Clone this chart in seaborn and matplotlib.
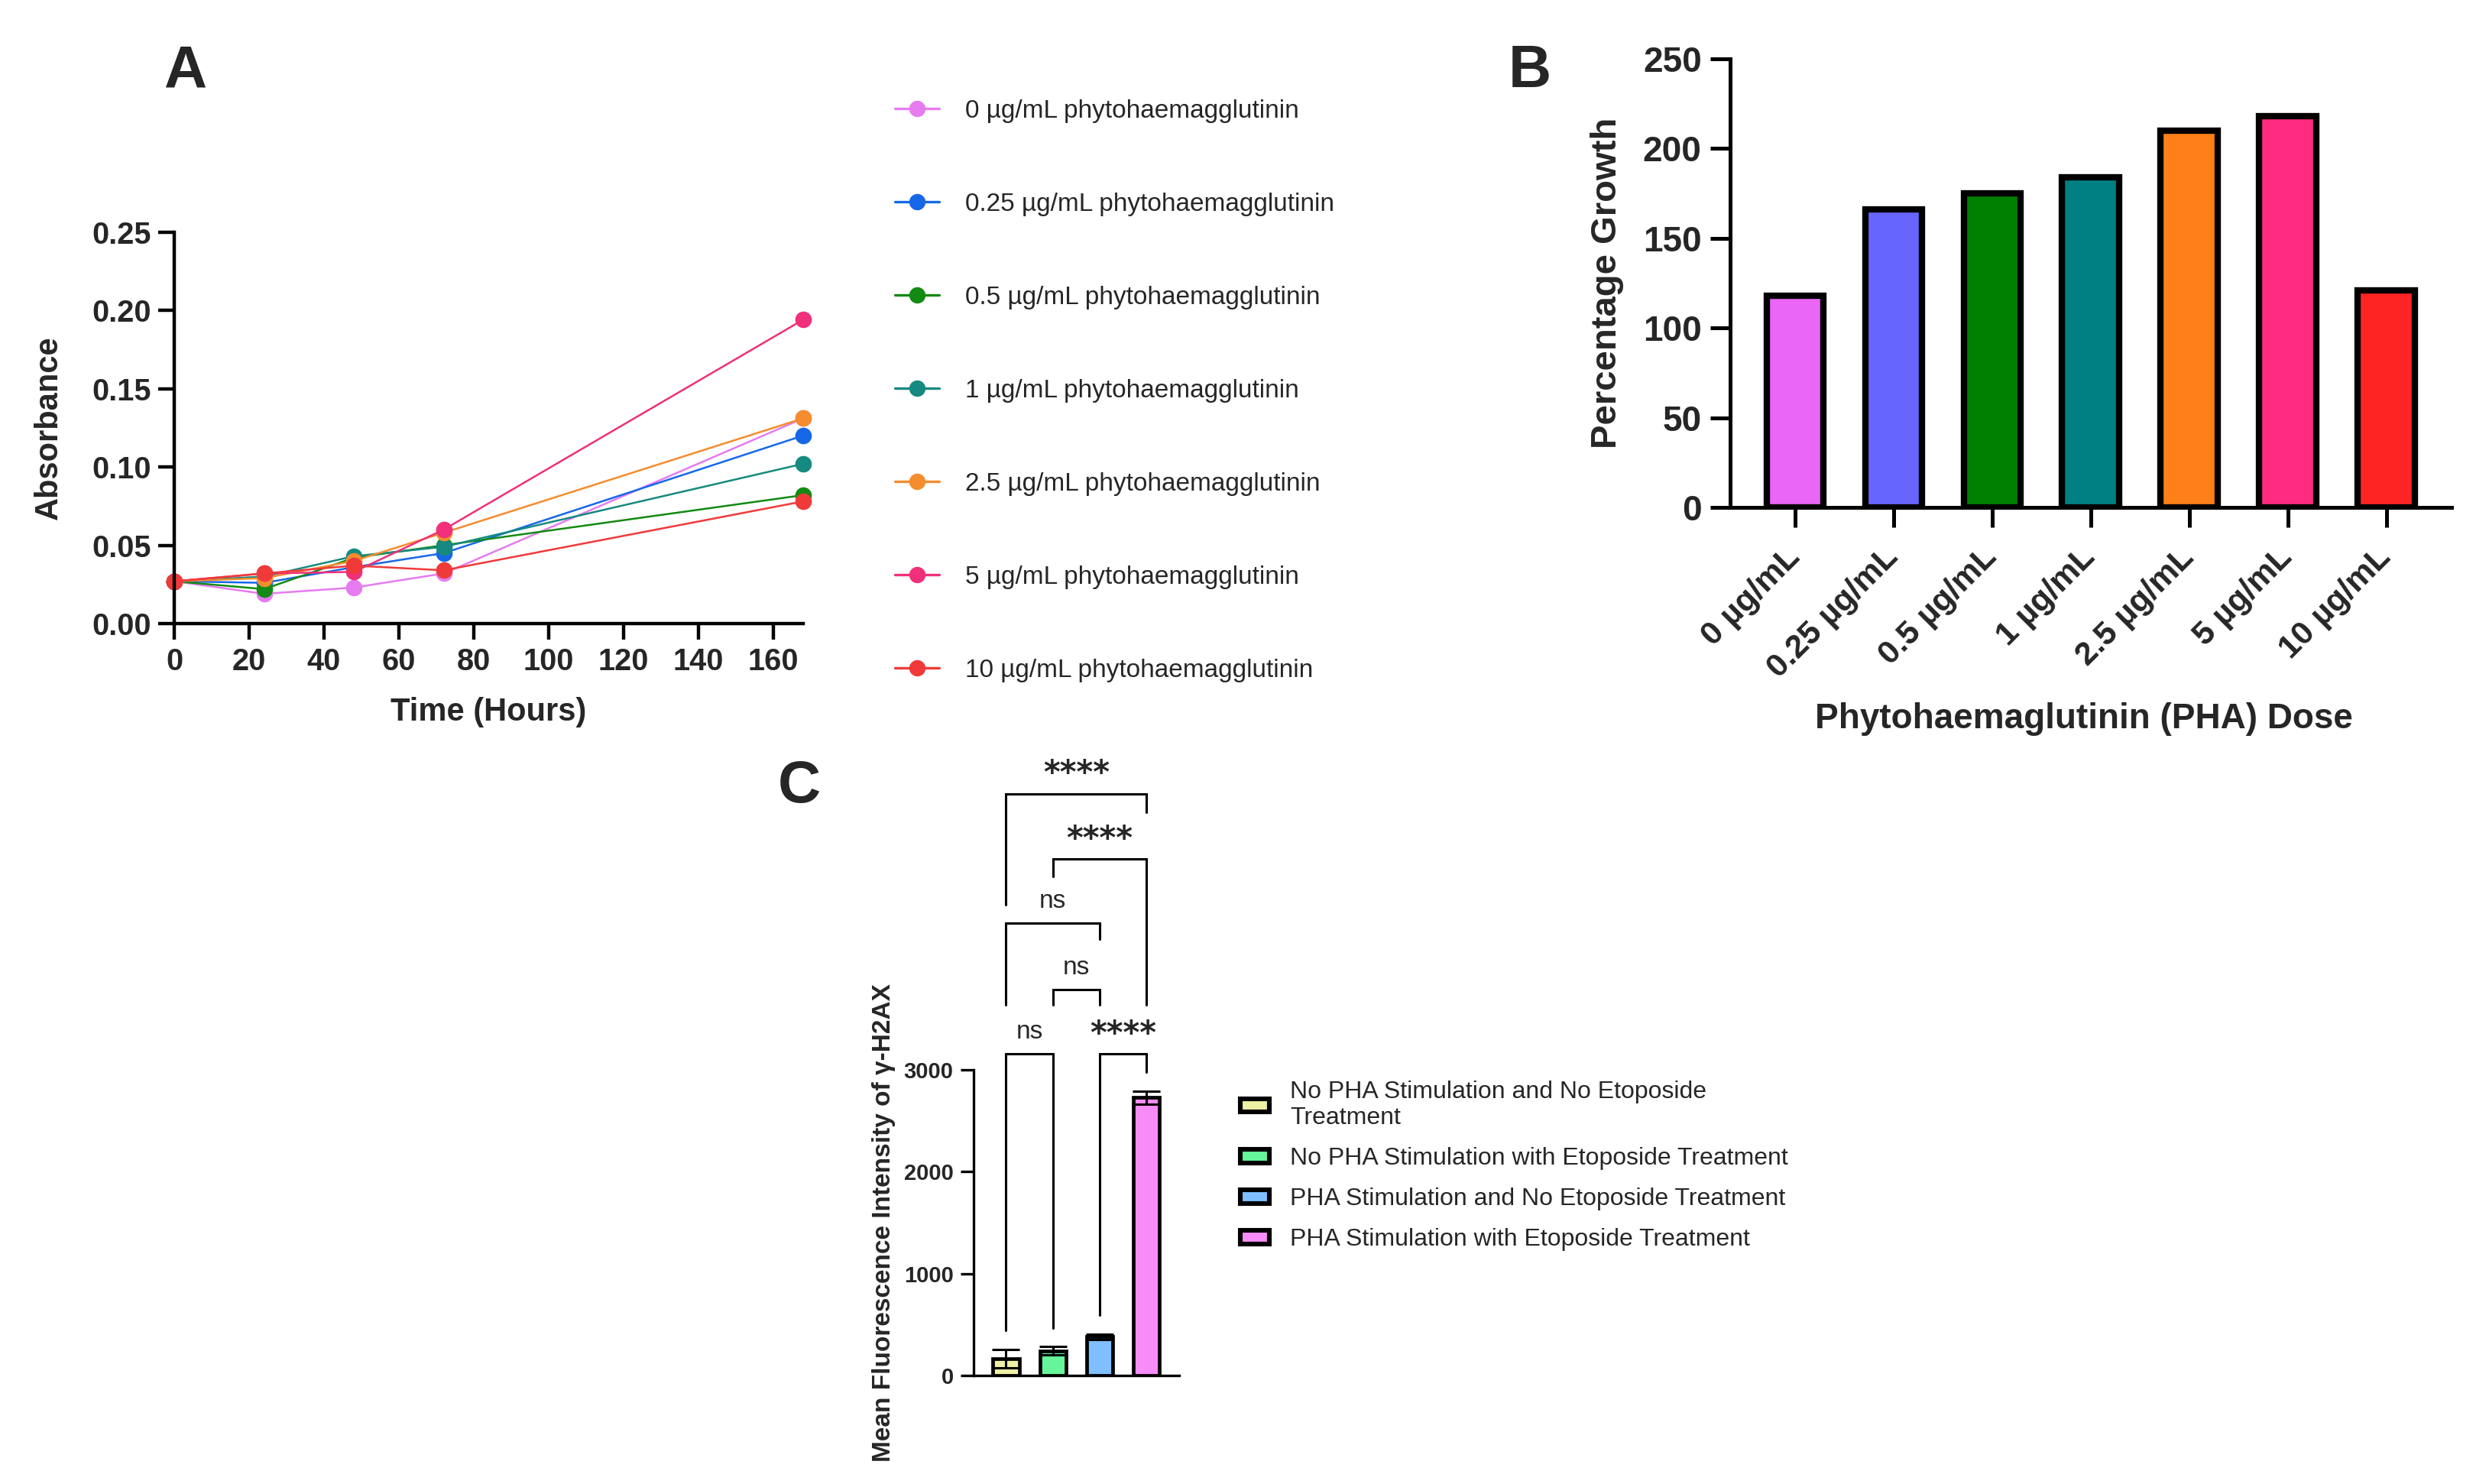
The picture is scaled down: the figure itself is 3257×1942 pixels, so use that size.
import pandas as pd
import matplotlib.pyplot as plt
import seaborn as sns
from matplotlib.lines import Line2D
from matplotlib.patches import Patch

# ---- Panel A: absorbance over time ----
hours = [0, 24, 48, 72, 168]
dose_labels_a = [
    "0 µg/mL phytohaemagglutinin",
    "0.25 µg/mL phytohaemagglutinin",
    "0.5 µg/mL phytohaemagglutinin",
    "1 µg/mL phytohaemagglutinin",
    "2.5 µg/mL phytohaemagglutinin",
    "5 µg/mL phytohaemagglutinin",
    "10 µg/mL phytohaemagglutinin",
]
abs_0 = [0.027, 0.019, 0.023, 0.032, 0.131]
abs_025 = [0.027, 0.026, 0.036, 0.045, 0.120]
abs_05 = [0.027, 0.022, 0.042, 0.050, 0.082]
abs_1 = [0.027, 0.030, 0.043, 0.049, 0.102]
abs_25 = [0.027, 0.029, 0.040, 0.058, 0.131]
abs_5 = [0.027, 0.032, 0.033, 0.060, 0.194]
abs_10 = [0.027, 0.032, 0.037, 0.034, 0.078]
colors_a = ["#E67BF0", "#1668E8", "#138A13", "#168A80", "#F58C2E", "#F0307A", "#F03A3A"]

# ---- Panel B: percentage growth ----
doses_b = ["0 µg/mL", "0.25 µg/mL", "0.5 µg/mL", "1 µg/mL", "2.5 µg/mL", "5 µg/mL", "10 µg/mL"]
growth_b = [118, 166, 175, 184, 210, 218, 121]
colors_b = ["#E966F7", "#6666FF", "#008000", "#008080", "#FF8019", "#FF2B80", "#FF2424"]

# ---- Panel C: gamma-H2AX intensity ----
groups_c = [
    "No PHA Stimulation and No Etoposide\nTreatment",
    "No PHA Stimulation with Etoposide Treatment",
    "PHA Stimulation and No Etoposide Treatment",
    "PHA Stimulation with Etoposide Treatment",
]
mfi_mean = [168, 243, 380, 2728]
mfi_sd = [90, 42, 25, 65]
colors_c = ["#EEF0A6", "#66F59A", "#7FBFFF", "#F78BF7"]

# comparisons: (group i, group j, label, bracket top, left leg end, right leg end)
comparisons = [
    (0, 1, "ns", 3157, 445, 468),
    (2, 3, "****", 3157, 595, 2980),
    (1, 2, "ns", 3790, 3640, 3640),
    (0, 2, "ns", 4440, 3640, 4280),
    (1, 3, "****", 5070, 4900, 3640),
    (0, 3, "****", 5710, 4620, 5530),
]


def main() -> None:
    sns.set_style("ticks")
    plt.rcParams["font.family"] = ["Liberation Sans", "DejaVu Sans"]

    fig = plt.figure(figsize=(16.285, 9.71), dpi=200)

    # ---------- A ----------
    axA = fig.add_axes([0.0700, 0.5798, 0.2527, 0.2639])
    series = [abs_0, abs_025, abs_05, abs_1, abs_25, abs_5, abs_10]
    rows = []
    for lab, vals in zip(dose_labels_a, series):
        for h, v in zip(hours, vals):
            rows.append({"Hours": h, "Absorbance": v, "Dose": lab})
    dfa = pd.DataFrame(rows)
    sns.lineplot(data=dfa, x="Hours", y="Absorbance", hue="Dose",
                 hue_order=dose_labels_a, palette=colors_a, marker="o",
                 markersize=7.8, markeredgewidth=0, linewidth=0.9,
                 legend=False, clip_on=False, ax=axA)
    axA.set_xlim(0, 168)
    axA.set_ylim(0, 0.25)
    axA.set_xticks(range(0, 161, 20))
    axA.set_yticks([0, 0.05, 0.10, 0.15, 0.20, 0.25])
    axA.set_yticklabels(["0.00", "0.05", "0.10", "0.15", "0.20", "0.25"])
    for lab in axA.get_xticklabels() + axA.get_yticklabels():
        lab.set_fontweight("bold")
    axA.tick_params(labelsize=14.3, width=1.6, length=7.5, color="black")
    sns.despine(ax=axA)
    for s in ["left", "bottom"]:
        axA.spines[s].set_linewidth(1.6)
        axA.spines[s].set_color("black")
    axA.set_xlabel("Time (Hours)", fontsize=15, fontweight="bold")
    axA.set_ylabel("Absorbance", fontsize=15, fontweight="bold")
    axA.xaxis.set_label_coords(0.5, -0.187)
    axA.yaxis.set_label_coords(-0.175, 0.5)

    handles_a = [Line2D([], [], color=c, marker="o", markersize=7.7,
                        markeredgewidth=0, linewidth=1.2) for c in colors_a]
    fig.legend(handles_a, dose_labels_a, loc="upper left",
               bbox_to_anchor=(0.3595, 0.933), frameon=False, fontsize=12,
               labelspacing=2.73, handlelength=1.75, handletextpad=1.0,
               borderpad=0, borderaxespad=0, numpoints=1)

    # ---------- B ----------
    axB = fig.add_axes([0.6951, 0.6581, 0.2898, 0.3023])
    sns.barplot(x=doses_b, y=growth_b, hue=doses_b, palette=colors_b,
                legend=False, width=0.58, edgecolor="black", linewidth=3,
                saturation=1, ax=axB)
    axB.set_xlim(-0.66, 6.66)
    axB.set_ylim(0, 250)
    axB.set_yticks(range(0, 251, 50))
    axB.set_xticks(range(len(doses_b)))
    axB.set_xticklabels(doses_b, rotation=45, ha="right", va="center",
                        rotation_mode="anchor")
    for lab in axB.get_xticklabels() + axB.get_yticklabels():
        lab.set_fontweight("bold")
    axB.tick_params(width=1.8, color="black")
    axB.tick_params(axis="x", length=9.4, labelsize=15.5, pad=12)
    axB.tick_params(axis="y", length=9.4, labelsize=16.5, pad=4)
    sns.despine(ax=axB)
    for s in ["left", "bottom"]:
        axB.spines[s].set_linewidth(1.8)
        axB.spines[s].set_color("black")
    axB.set_xlabel("Phytohaemaglutinin (PHA) Dose", fontsize=16.5, fontweight="bold")
    axB.set_ylabel("Percentage Growth", fontsize=17, fontweight="bold")
    axB.xaxis.set_label_coords(0.49, -0.434)
    axB.yaxis.set_label_coords(-0.147, 0.5)

    # ---------- C ----------
    axC = fig.add_axes([0.3912, 0.0731, 0.0826, 0.4325])
    xpos = list(range(len(groups_c)))
    sns.barplot(x=xpos, y=mfi_mean, hue=xpos, palette=colors_c, legend=False,
                width=0.56, edgecolor="black", linewidth=1.7, saturation=1,
                ax=axC)
    axC.errorbar(xpos, mfi_mean, yerr=mfi_sd, fmt="none", ecolor="black",
                 elinewidth=1.1, capsize=6.5, capthick=1.1, zorder=5)
    axC.set_xlim(-0.69, 3.70)
    axC.set_ylim(0, 6300)
    axC.set_yticks([0, 1000, 2000, 3000])
    for lab in axC.get_yticklabels():
        lab.set_fontweight("bold")
    axC.tick_params(axis="y", labelsize=10.5, width=1.2, length=6, color="black")
    axC.tick_params(axis="x", length=0, labelbottom=False)
    sns.despine(ax=axC)
    axC.spines["left"].set_bounds(0, 3000)
    for s in ["left", "bottom"]:
        axC.spines[s].set_linewidth(1.2)
        axC.spines[s].set_color("black")
    axC.set_xlabel("")
    axC.set_ylabel("Mean Fluorescence Intensity of γ-H2AX", fontsize=12,
                   fontweight="bold")
    axC.yaxis.set_label_coords(-0.38, 1500 / 6300)

    for i, j, label, top, lb, rb in comparisons:
        axC.plot([i, i, j, j], [lb, top, top, rb], color="black", lw=1.1,
                 clip_on=False, solid_joinstyle="miter")
        if label == "ns":
            axC.text((i + j) / 2, top + 215, label, ha="center", va="center",
                     fontsize=12)
        else:
            axC.text((i + j) / 2, top + 190, label, ha="center", va="center",
                     fontsize=15, fontweight="bold", family=["DejaVu Sans"])

    handles_c = [Patch(facecolor=c, edgecolor="black", linewidth=2.2) for c in colors_c]
    fig.legend(handles_c, groups_c, loc="upper left",
               bbox_to_anchor=(0.4983, 0.272), frameon=False, fontsize=11.5,
               labelspacing=0.72, handlelength=1.2, handleheight=0.45,
               handletextpad=0.85, borderpad=0, borderaxespad=0)

    # panel letters
    fig.text(242 / 3257, 1 - 94 / 1942, "A", fontsize=28, fontweight="bold",
             ha="center", va="center")
    fig.text(2002 / 3257, 1 - 94 / 1942, "B", fontsize=28, fontweight="bold",
             ha="center", va="center")
    fig.text(1046 / 3257, 1 - 1029 / 1942, "C", fontsize=28, fontweight="bold",
             ha="center", va="center")

    fig.savefig("out.png", dpi=200, facecolor="white")


if __name__ == "__main__":
    main()
